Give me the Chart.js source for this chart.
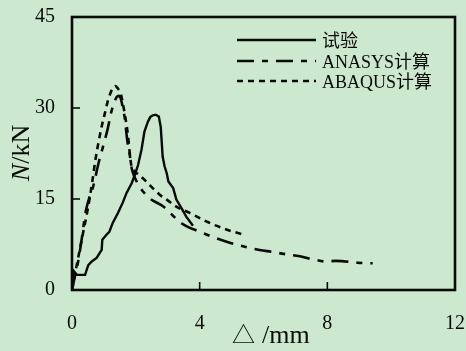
<!DOCTYPE html>
<html>
<head>
<meta charset="utf-8">
<script src="https://cdn.jsdelivr.net/npm/chart.js@4/dist/chart.umd.min.js"></script>
<style>
  html, body { margin: 0; padding: 0; background: #cce8cf; }
  #wrap { width: 466px; height: 351px; }
</style>
</head>
<body>
<div id="wrap"><canvas id="c" width="466" height="351"></canvas></div>
<script>
// Load–displacement curves: test vs. two FE models
const seriesNames = ['试验', 'ANASYS计算', 'ABAQUS计算'];

// 试验 (test)
const testX = [0, 0.04, 0.06, 0.15, 0.41, 0.46, 0.51, 0.62, 0.77, 0.93, 0.95, 1.08, 1.17, 1.28, 1.44,
  1.59, 1.71, 1.87, 1.97, 2.07, 2.18, 2.27, 2.375, 2.45, 2.53, 2.62, 2.72, 2.78, 2.81, 2.84, 2.9,
  2.97, 3.02, 3.17, 3.27, 3.43, 3.58, 3.79];
const testY = [0, 2.2, 3.1, 2.5, 2.5, 3.3, 4.1, 4.7, 5.3, 6.6, 8.3, 9.1, 9.6, 11.1, 12.7,
  14.4, 16.0, 17.6, 19.0, 20.6, 23.2, 26.1, 27.7, 28.5, 28.8, 28.9, 28.6, 26.9, 24.5, 22.0, 20.4,
  19.2, 17.9, 16.8, 14.9, 13.5, 12.1, 10.6];

// ANSYS model
const ansysX = [0, 0.1, 0.19, 0.31, 0.41, 0.53, 0.66, 0.84, 0.97, 1.12, 1.22, 1.3, 1.4, 1.47, 1.53,
  1.59, 1.66, 1.7, 1.75, 1.81, 1.85, 1.91, 1.97, 2.12, 2.44, 2.85, 3.43, 4.0, 4.94, 5.88, 6.24,
  6.81, 7.1, 7.6, 7.96, 8.27, 8.95, 9.42];
const ansysY = [0, 2.5, 4.6, 8.6, 12.4, 15.0, 17.0, 21.1, 23.6, 26.6, 29.1, 30.6, 31.8, 32.0, 31.5,
  30.1, 28.1, 26.1, 23.9, 22.3, 20.6, 19.3, 18.5, 17.0, 15.1, 13.8, 11.0, 9.6, 7.8, 6.6, 6.3,
  5.8, 5.6, 5.0, 4.7, 4.8, 4.5, 4.4];

// ABAQUS model
const abaqusX = [0, 0.1, 0.2, 0.35, 0.5, 0.64, 0.72, 0.84, 0.94, 1.02, 1.13, 1.28, 1.36, 1.44, 1.54,
  1.62, 1.7, 1.76, 1.8, 1.86, 1.95, 2.1, 2.34, 2.53, 2.75, 2.97, 3.28, 3.69, 4.25, 4.88, 5.4];
const abaqusY = [0, 2.8, 5.5, 9.5, 13.5, 18.0, 21.0, 24.6, 27.2, 28.9, 31.3, 33.3, 33.6, 33.2, 32.1,
  30.0, 27.5, 25.2, 23.0, 20.5, 19.6, 19.0, 17.8, 16.8, 15.7, 14.9, 13.7, 12.7, 11.2, 9.9, 9.1];

const xTicks = [0, 4, 8, 12];
const yTicks = [0, 15, 30, 45];

const pts = (xs, ys) => xs.map((x, i) => ({ x: x, y: ys[i] }));

const SERIF = '"Liberation Serif", "Times New Roman", "Noto Sans CJK SC", serif';
const INK = '#0a0a0a';

// page colour behind everything
const backdrop = {
  id: 'backdrop',
  beforeDraw(chart) {
    const ctx = chart.ctx;
    ctx.save();
    ctx.fillStyle = '#cce8cf';
    ctx.fillRect(0, 0, chart.width, chart.height);
    ctx.restore();
  }
};

// closed frame, inward tick marks, axis titles and the line legend
const frame = {
  id: 'frame',
  afterDraw(chart) {
    const ctx = chart.ctx;
    const a = chart.chartArea;
    const xs = chart.scales.x, ys = chart.scales.y;
    ctx.save();
    ctx.strokeStyle = INK;
    ctx.lineWidth = 1.6;
    xs.ticks.forEach(t => {
      const px = xs.getPixelForValue(t.value);
      ctx.beginPath(); ctx.moveTo(px, a.bottom); ctx.lineTo(px, a.bottom - 8); ctx.stroke();
    });
    ys.ticks.forEach(t => {
      const py = ys.getPixelForValue(t.value);
      ctx.beginPath(); ctx.moveTo(a.left, py); ctx.lineTo(a.left + 8, py); ctx.stroke();
    });
    ctx.lineWidth = 2.6;
    ctx.strokeRect(a.left, a.top, a.right - a.left, a.bottom - a.top);

    // y title: italic N followed by /kN, read bottom-to-top
    ctx.fillStyle = INK;
    ctx.textBaseline = 'alphabetic';
    ctx.textAlign = 'left';
    const fItal = 'italic 26px ' + SERIF, fReg = '26px ' + SERIF;
    ctx.font = fItal; const wN = ctx.measureText('N').width;
    ctx.font = fReg; const wR = ctx.measureText('/kN').width;
    ctx.save();
    ctx.translate(29, 153);
    ctx.rotate(-Math.PI / 2);
    const sx = -(wN + wR) / 2;
    ctx.font = fItal; ctx.fillText('N', sx, 0);
    ctx.font = fReg; ctx.fillText('/kN', sx + wN, 0);
    ctx.restore();

    // x title
    ctx.font = '23px "Noto Sans CJK SC", sans-serif';
    ctx.fillText('△', 232, 343);
    ctx.font = fReg;
    ctx.fillText('/mm', 262, 343);

    // legend
    const rows = [40, 61, 81];
    chart.data.datasets.forEach((ds, i) => {
      const y = rows[i];
      ctx.save();
      ctx.strokeStyle = ds.borderColor;
      ctx.lineWidth = ds.borderWidth;
      ctx.setLineDash(ds.borderDash || []);
      ctx.beginPath(); ctx.moveTo(237, y); ctx.lineTo(316, y); ctx.stroke();
      ctx.restore();
      ctx.font = '18px ' + SERIF;
      ctx.textBaseline = 'middle';
      ctx.fillText(ds.label, 322, y + 2);
    });
    ctx.restore();
  }
};

function noOverhang(s) {
  s.paddingLeft = 0; s.paddingRight = 0; s.paddingTop = 0; s.paddingBottom = 0;
}

new Chart(document.getElementById('c'), {
  type: 'line',
  data: {
    datasets: [
      { label: seriesNames[0], data: pts(testX, testY), borderColor: INK, borderWidth: 2.4,
        borderDash: [], tension: 0 },
      { label: seriesNames[1], data: pts(ansysX, ansysY), borderColor: INK, borderWidth: 2.6,
        borderDash: [17, 8, 6, 8], cubicInterpolationMode: 'monotone' },
      { label: seriesNames[2], data: pts(abaqusX, abaqusY), borderColor: INK, borderWidth: 2.6,
        borderDash: [6, 5], cubicInterpolationMode: 'monotone' }
    ]
  },
  options: {
    responsive: false,
    animation: false,
    devicePixelRatio: 1,
    layout: { padding: { left: 0, right: 11, top: 17, bottom: 0 } },
    elements: { point: { radius: 0 } },
    plugins: { legend: { display: false }, tooltip: { enabled: false } },
    scales: {
      x: {
        type: 'linear', min: xTicks[0], max: xTicks[xTicks.length - 1],
        afterBuildTicks: s => { s.ticks = xTicks.map(v => ({ value: v })); },
        afterFit: s => { s.height = 61; noOverhang(s); },
        grid: { display: false, drawTicks: false },
        border: { display: false },
        ticks: { font: { family: SERIF, size: 20 }, color: INK, padding: 22, maxRotation: 0 }
      },
      y: {
        type: 'linear', min: yTicks[0], max: yTicks[yTicks.length - 1],
        afterBuildTicks: s => { s.ticks = yTicks.map(v => ({ value: v })); },
        afterFit: s => { s.width = 72; noOverhang(s); },
        grid: { display: false, drawTicks: false },
        border: { display: false },
        ticks: { font: { family: SERIF, size: 20 }, color: INK, padding: 17 }
      }
    }
  },
  plugins: [backdrop, frame]
});
</script>
</body>
</html>
